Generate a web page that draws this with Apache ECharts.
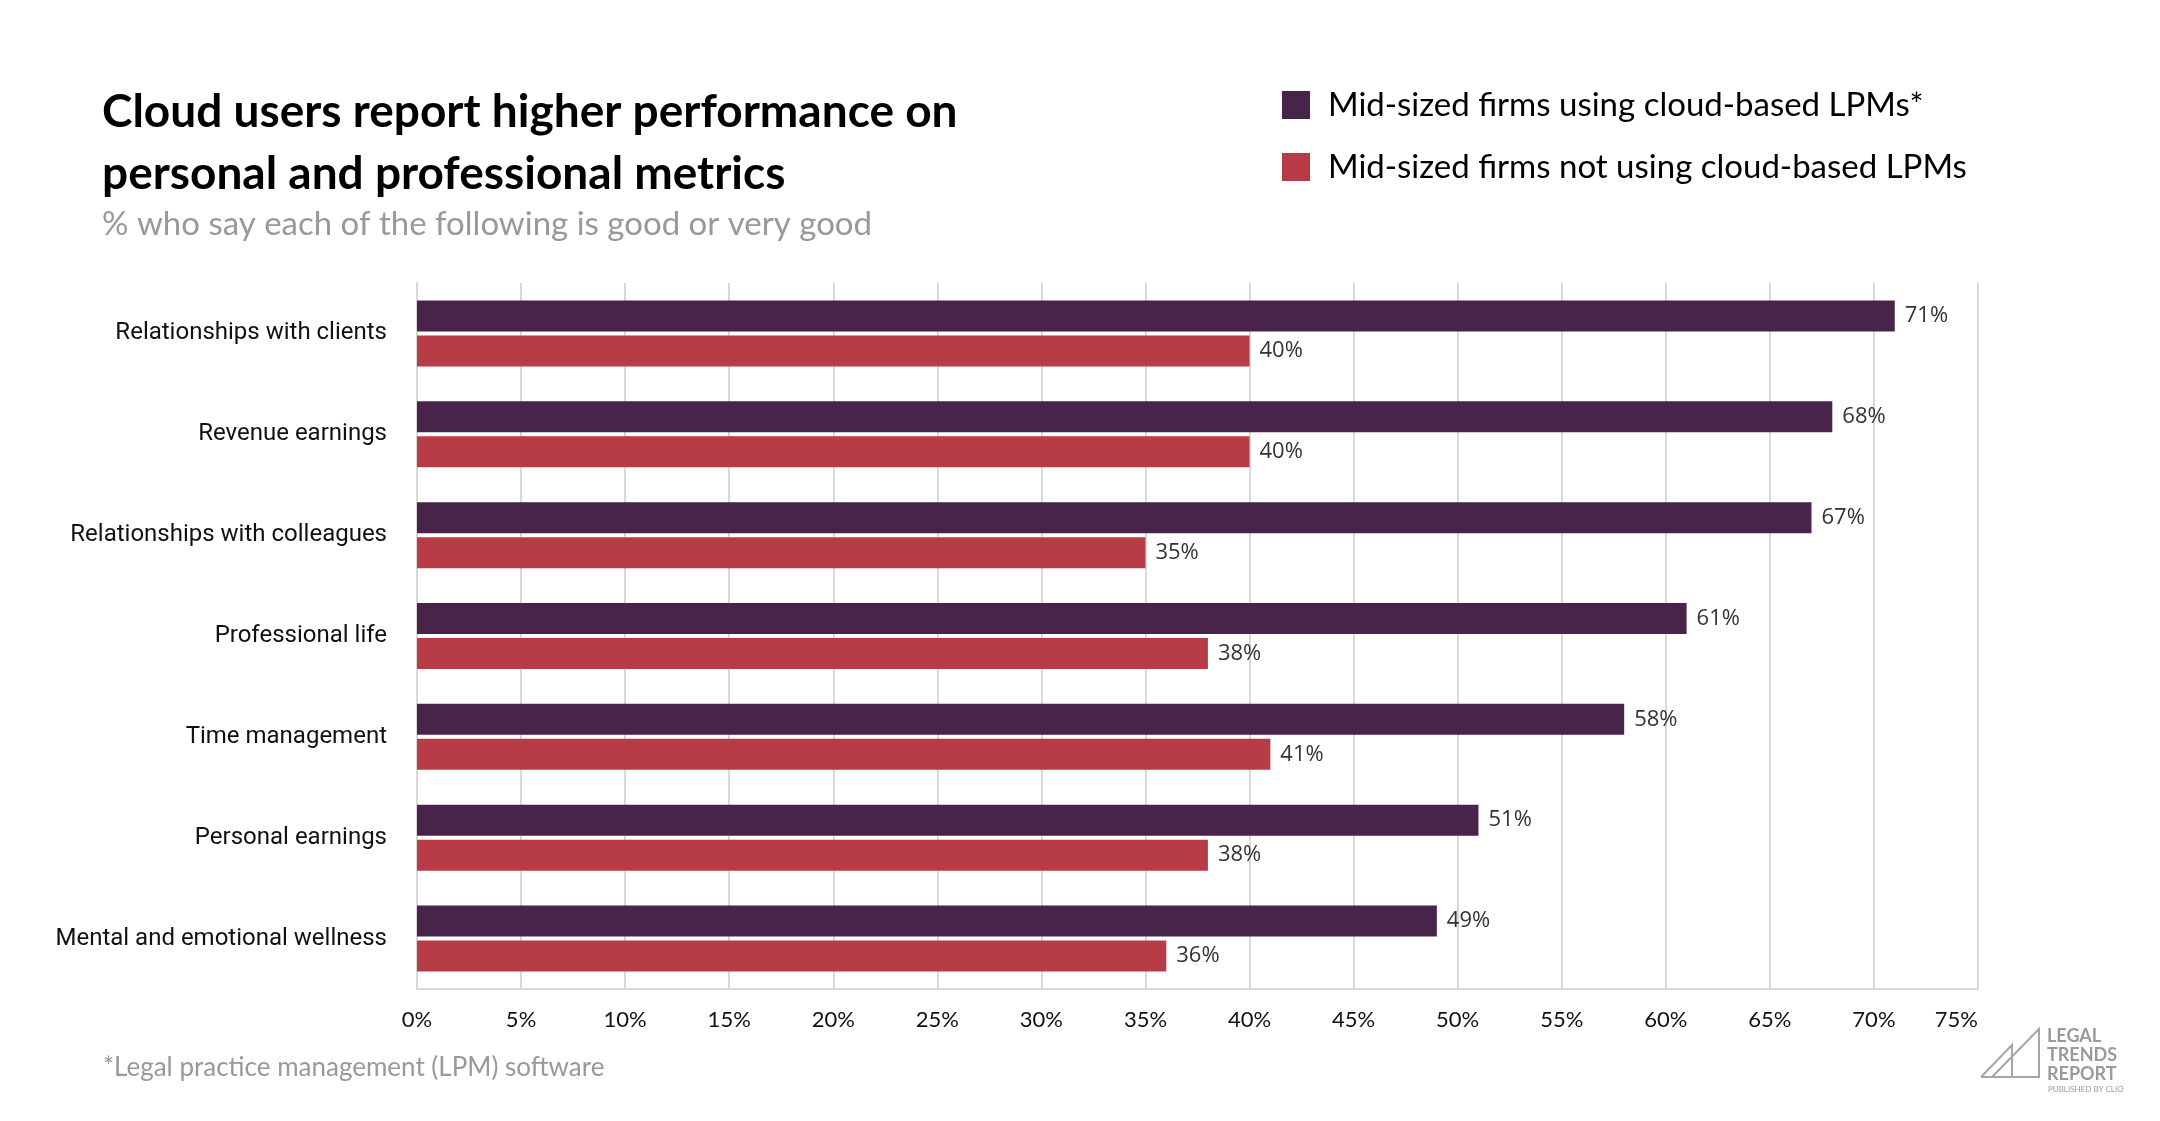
<!DOCTYPE html>
<html>
<head>
<meta charset="utf-8">
<script src="https://cdn.jsdelivr.net/npm/echarts@6/dist/echarts.min.js"></script>
<style>
  html, body { margin: 0; padding: 0; background: #fff; }
  #chart { width: 2160px; height: 1121px; }
</style>
</head>
<body>
<div id="chart"></div>
<script>
const categories = ['Relationships with clients', 'Revenue earnings', 'Relationships with colleagues', 'Professional life', 'Time management', 'Personal earnings', 'Mental and emotional wellness'];
const cloudUsers = [71, 68, 67, 61, 58, 51, 49];
const nonCloudUsers = [40, 40, 35, 38, 41, 38, 36];
const seriesNames = ['Mid-sized firms using cloud-based LPMs*', 'Mid-sized firms not using cloud-based LPMs'];

const headFont = 'Lato';
const gridColor = '#d9d9d9';

let chart = echarts.init(document.getElementById('chart'));

const labelStyle = {
    show: true,
    position: 'right',
    distance: 10,
    formatter: '{c}%',
    fontFamily: 'Open Sans',
    fontSize: 22,
    color: '#333'
};

chart.setOption({
    backgroundColor: '#fff',
    animation: false,
    title: {
        text: 'Cloud users report higher performance on\npersonal and professional metrics',
        subtext: '% who say each of the following is good or very good',
        left: 97,
        top: 76,
        itemGap: 3,
        textStyle: {fontFamily: headFont, fontWeight: 'bold', fontSize: 46, lineHeight: 62, color: '#000'},
        subtextStyle: {fontFamily: headFont, fontSize: 33, color: '#999'}
    },
    legend: {
        orient: 'vertical',
        left: 1277,
        top: 80,
        itemWidth: 28,
        itemHeight: 28,
        itemGap: 22,
        icon: 'rect',
        textStyle: {fontFamily: headFont, fontSize: 33, lineHeight: 40, color: '#000', padding: [0, 0, 0, 13]},
        data: seriesNames
    },
    grid: {left: 417, right: 182, top: 283, bottom: 132, containLabel: false},
    xAxis: {
        type: 'value',
        min: 0,
        max: 75,
        interval: 5,
        axisLine: {show: true, lineStyle: {color: gridColor, width: 2}},
        axisTick: {show: false},
        splitLine: {show: true, lineStyle: {color: gridColor, width: 2}},
        axisLabel: {formatter: '{value}%', fontFamily: headFont, fontSize: 22, color: '#111', margin: 20, alignMaxLabel: 'right'}
    },
    yAxis: {
        type: 'category',
        inverse: true,
        data: categories,
        axisLine: {show: true, lineStyle: {color: gridColor, width: 2}},
        axisTick: {show: false},
        axisLabel: {fontFamily: 'Roboto', fontSize: 24, color: '#111', margin: 30}
    },
    series: [
        {name: seriesNames[0], type: 'bar', data: cloudUsers, barWidth: 31, barGap: '13%', itemStyle: {color: '#48244a'}, label: labelStyle},
        {name: seriesNames[1], type: 'bar', data: nonCloudUsers, barWidth: 31, barGap: '13%', itemStyle: {color: '#b83c45'}, label: labelStyle}
    ],
    graphic: [
        {
            type: 'text', left: 103, top: 1055,
            style: {text: '*Legal practice management (LPM) software', fontFamily: headFont, fontSize: 26, fill: '#999'}
        },
        {
            type: 'polyline', silent: true,
            shape: {points: [[1981, 1077], [2012, 1045], [2012, 1077]]},
            style: {stroke: '#a6a6a6', lineWidth: 2, fill: null}
        },
        {
            type: 'polyline', silent: true,
            shape: {points: [[1992, 1077], [2039, 1029], [2039, 1077], [1981, 1077]]},
            style: {stroke: '#a6a6a6', lineWidth: 2, fill: null}
        },
        {type: 'text', left: 2047, top: 1027, style: {text: 'LEGAL', fontFamily: headFont, fontWeight: 'bold', fontSize: 18, fill: '#9a9a9a'}},
        {type: 'text', left: 2047, top: 1046, style: {text: 'TRENDS', fontFamily: headFont, fontWeight: 'bold', fontSize: 18, fill: '#9a9a9a'}},
        {type: 'text', left: 2047, top: 1065, style: {text: 'REPORT', fontFamily: headFont, fontWeight: 'bold', fontSize: 18, fill: '#9a9a9a'}},
        {type: 'text', left: 2048, top: 1085, style: {text: 'PUBLISHED BY CLIO', fontFamily: headFont, fontSize: 8, fill: '#9a9a9a'}}
    ]
});
</script>
</body>
</html>
